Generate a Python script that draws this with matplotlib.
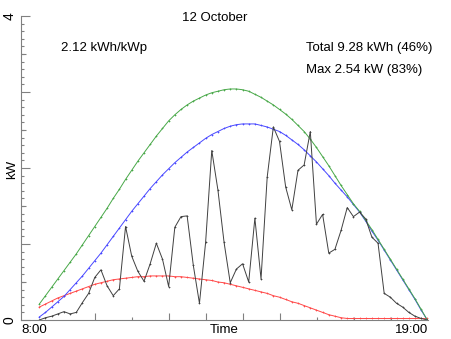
import numpy as np
import matplotlib
matplotlib.use('Agg')
import matplotlib.pyplot as plt

plt.rcParams['font.family'] = ['Liberation Sans', 'DejaVu Sans']

# samples from 8:00 to 19:00
times = np.linspace(8, 19, 64)

# measured output (kW)
measured = [0.00, 0.03, 0.05, 0.08, 0.11, 0.08, 0.10, 0.23, 0.35, 0.56,
            0.66, 0.45, 0.32, 0.41, 1.23, 0.84, 0.64, 0.51, 0.74, 1.01,
            0.80, 0.44, 1.22, 1.36, 1.37, 0.72, 0.22, 1.02, 2.23, 1.71,
            1.02, 0.49, 0.67, 0.74, 0.50, 1.34, 0.54, 1.88, 2.54, 2.35,
            1.75, 1.45, 1.97, 2.04, 2.48, 1.26, 1.39, 0.88, 0.93, 1.18,
            1.48, 1.36, 1.42, 1.33, 1.09, 1.01, 0.35, 0.30, 0.22, 0.17,
            0.10, 0.05, 0.02, 0.00]

# green curve
clear_sky = [0.21, 0.32, 0.43, 0.54, 0.65, 0.76, 0.87, 0.99, 1.11, 1.23,
             1.35, 1.47, 1.60, 1.72, 1.85, 1.97, 2.09, 2.20, 2.31, 2.42,
             2.52, 2.62, 2.70, 2.77, 2.83, 2.88, 2.92, 2.96, 2.99, 3.01,
             3.03, 3.04, 3.04, 3.03, 3.01, 2.97, 2.93, 2.88, 2.83, 2.77,
             2.71, 2.64, 2.56, 2.48, 2.38, 2.27, 2.15, 2.03, 1.90, 1.77,
             1.65, 1.53, 1.43, 1.31, 1.19, 1.06, 0.93, 0.80, 0.67, 0.54,
             0.41, 0.28, 0.14, 0.00]

# blue curve
expected = [0.04, 0.10, 0.17, 0.24, 0.31, 0.40, 0.49, 0.58, 0.68, 0.78,
            0.88, 0.99, 1.10, 1.21, 1.32, 1.43, 1.53, 1.63, 1.73, 1.82,
            1.91, 1.99, 2.07, 2.14, 2.21, 2.27, 2.33, 2.39, 2.44, 2.48,
            2.52, 2.55, 2.57, 2.58, 2.58, 2.58, 2.56, 2.54, 2.51, 2.48,
            2.43, 2.37, 2.31, 2.24, 2.16, 2.08, 1.99, 1.90, 1.80, 1.71,
            1.62, 1.52, 1.42, 1.30, 1.17, 1.05, 0.92, 0.79, 0.66, 0.53,
            0.40, 0.27, 0.13, 0.00]

# red curve
diffuse = [0.17, 0.21, 0.25, 0.29, 0.32, 0.35, 0.38, 0.41, 0.44, 0.47,
           0.49, 0.51, 0.53, 0.54, 0.55, 0.56, 0.57, 0.57, 0.58, 0.58,
           0.58, 0.58, 0.57, 0.57, 0.56, 0.55, 0.54, 0.53, 0.52, 0.50,
           0.49, 0.47, 0.45, 0.43, 0.41, 0.39, 0.37, 0.35, 0.32, 0.30,
           0.27, 0.24, 0.22, 0.19, 0.16, 0.13, 0.10, 0.07, 0.05, 0.03,
           0.02, 0.02, 0.02, 0.02, 0.02, 0.02, 0.02, 0.02, 0.02, 0.02,
           0.02, 0.02, 0.02, 0.02]

fig = plt.figure(figsize=(4.52, 3.39), dpi=100)
ax = fig.add_axes([21 / 452, 19 / 339, 407 / 452, 304 / 339])

style = dict(lw=0.7, marker='+', ms=1.6, mew=0.5)
ax.plot(times, diffuse, color='#ff4848', **style)
ax.plot(times, expected, color='#4848ff', **style)
ax.plot(times, clear_sky, color='#48a848', **style)
ax.plot(times, measured, color='#404040', **style)

ax.set_xlim(7.48, 19.02)
ax.set_ylim(0, 4)
for s in ['top', 'right']:
    ax.spines[s].set_visible(False)
for s in ['left', 'bottom']:
    ax.spines[s].set_color('#808080')
    ax.spines[s].set_linewidth(0.8)

# y ticks: labels only at 0 and 4
ax.set_yticks([0, 1, 2, 3, 4])
ax.set_yticklabels(['0', '', '', '', '4'], rotation=90, va='center')
ax.set_yticks(np.arange(0, 4.01, 0.1), minor=True)
ax.tick_params(axis='y', which='major', direction='in', length=6.5,
               width=0.8, color='#808080', pad=3, labelsize=10)
ax.tick_params(axis='y', which='minor', direction='in', length=2.4,
               width=0.8, color='#808080')
half = ax.secondary_yaxis('left')
half.set_yticks(np.arange(0.5, 4, 1))
half.set_yticklabels([])
half.tick_params(direction='in', length=3.6, width=0.8, color='#808080')
half.spines['left'].set_visible(False)

# x ticks, no tick labels
edges = np.linspace(7.48, 19.02, 12)
ax.set_xticks(edges[[2, 4, 5, 6, 7]])
ax.set_xticks(edges[[3, 8, 9, 10]], minor=True)
ax.set_xticklabels([])
ax.tick_params(axis='x', which='major', direction='in', length=5,
               width=0.8, color='#808080')
ax.tick_params(axis='x', which='minor', direction='in', length=2.4,
               width=0.8, color='#808080')

fs = 9.5
fig.text(215 / 452, 1 - 18 / 339, '12 October', ha='center', va='center', fontsize=fs)
fig.text(61 / 452, 1 - 48 / 339, '2.12 kWh/kWp', ha='left', va='center', fontsize=fs)
fig.text(306 / 452, 1 - 48 / 339, 'Total 9.28 kWh (46%)', ha='left', va='center', fontsize=fs)
fig.text(306 / 452, 1 - 70 / 339, 'Max 2.54 kW (83%)', ha='left', va='center', fontsize=fs)
fig.text(21 / 452, 1 - 330 / 339, '8:00', ha='left', va='center', fontsize=fs)
fig.text(428 / 452, 1 - 330 / 339, '19:00', ha='right', va='center', fontsize=fs)
fig.text(224 / 452, 1 - 330 / 339, 'Time', ha='center', va='center', fontsize=fs)
fig.text(12 / 452, 1 - 169 / 339, 'kW', rotation=90, ha='center', va='center', fontsize=fs)

fig.savefig('out.png', dpi=100)
